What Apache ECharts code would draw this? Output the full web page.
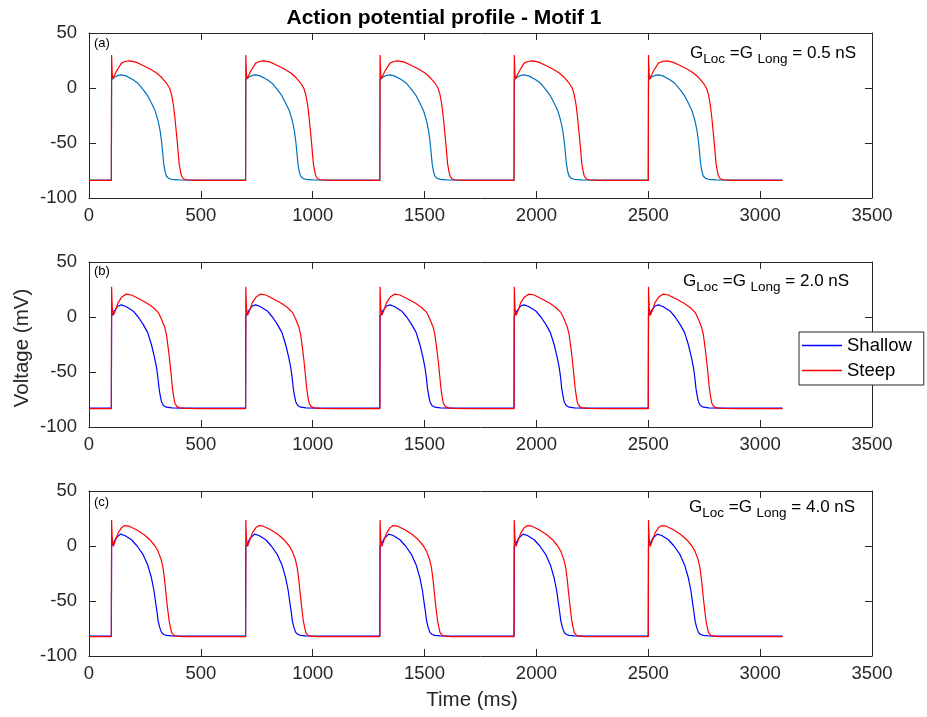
<!DOCTYPE html>
<html><head><meta charset="utf-8">
<script src="https://cdn.jsdelivr.net/npm/echarts@6/dist/echarts.min.js"></script>
<style>html,body{margin:0;padding:0;background:#fff}#c{width:927px;height:717px}</style>
</head><body><div id="c"></div>
<script>
// ---------------- data ----------------
const chartTitle = 'Action potential profile - Motif 1';
const xAxisName = 'Time (ms)';
const yAxisName = 'Voltage (mV)';
const panelLabels = ['(a)', '(b)', '(c)'];
const conductances = ['0.5', '2.0', '4.0'];
const seriesNames = ['Shallow', 'Steep'];
const xMin = 0, xMax = 3500, xStep = 500;
const yMin = -100, yMax = 50, yStep = 50;
const beatOnsets = [100, 700, 1300, 1900, 2500];   // stimulus times (ms)
const endTime = 3100;

// one action potential per trace: [ms after stimulus, mV]
const shallowA = [[0,-83.7],[1,7.5],[8,9],[15,10],[30,11.5],[45,12],[65,11],[97,7.5],[120,4],[142,-1.5],[162,-7],[179,-13.6],[196,-21],[209,-30],[218,-39],[224,-48],[229,-58],[234,-69],[240,-76],[246,-80],[256,-82.2],[269,-83],[300,-83.5],[360,-83.7]];
const steepA   = [[0,-84],[1,30],[4,12],[7,8.5],[12,10],[22,15],[45,22.6],[65,24.3],[82,24.7],[110,23.5],[142,20.5],[175,17],[202,13.6],[225,9.5],[246,4.5],[260,0],[269,-6],[277,-15],[284,-27],[294,-48],[303,-69],[309,-76],[314,-80],[322,-82.5],[336,-83.4],[380,-84]];
const shallowB = [[0,-82.9],[1,1],[8,1.8],[15,6],[30,10],[45,11],[65,9.5],[97,5.5],[120,0],[142,-6.7],[162,-14],[179,-25],[192,-36],[202,-46],[208,-55],[213,-64.7],[218,-71],[224,-77],[233,-80.5],[246,-82],[270,-82.6],[330,-82.9]];
const steepB   = [[0,-83.3],[1,27.5],[4,8],[9,1.5],[18,6],[30,13],[48,18.5],[67,20.8],[90,20],[127,16.2],[160,12.5],[187,8.6],[210,4],[224,-2],[238,-9],[246,-15.8],[254,-28],[261,-40],[267,-52],[273,-64.7],[279,-73],[284,-78.4],[293,-81.5],[306,-82.6],[330,-83.1],[400,-83.3]];
const shallowC = [[0,-81.9],[1,0],[8,2],[20,7],[40,10.8],[60,9.5],[90,5.7],[115,0],[142,-7.9],[162,-17],[179,-28.9],[190,-40],[199,-53],[204,-60],[209,-68],[216,-74],[224,-78.5],[234,-80.5],[246,-81.3],[270,-81.7],[320,-81.9]];
const steepC   = [[0,-82.3],[1,23.7],[4,6],[9,-0.3],[18,5],[30,11.7],[45,16.5],[60,18.6],[80,18],[112,14.7],[145,10.5],[172,5.7],[195,0],[209,-4.9],[222,-12],[231,-19.9],[238,-31],[246,-47],[252,-58],[258,-68],[264,-74],[269,-78.5],[278,-81],[291,-82],[320,-82.3]];

const shallowTemplates = [shallowA, shallowB, shallowC];
const steepTemplates = [steepA, steepB, steepC];

// ---------------- style / layout ----------------
const FONT = '"Liberation Sans", Arial, Helvetica, sans-serif';
const AX = '#262626';
const shallowColors = ['#0072BD', '#0000FF', '#0000FF'];
const steepColor = '#FF0000';
const gridTops = [33, 262, 491];
const gridH = 165;
const gLabelPos = [[690, 53], [683, 281], [689, 507]];
const pLabelY = [45, 273, 503.5];

function buildTrace(template) {
  const rest = template[0][1];
  const out = [[xMin, rest]];
  beatOnsets.forEach(t0 => template.forEach(p => out.push([t0 + p[0], p[1]])));
  out.push([endTime, rest]);
  return out;
}
const plain = v => String(v);

const grids = [], xAxes = [], yAxes = [], series = [], graphics = [];
gridTops.forEach((top, i) => {
  grids.push({left: 89, right: 55, top: top, height: gridH, containLabel: false});
});
const tickCommon = {show: true, inside: true, length: 7, lineStyle: {color: AX, width: 1}};
gridTops.forEach((top, i) => {
  xAxes.push({type: 'value', gridIndex: i, min: xMin, max: xMax, interval: xStep, position: 'bottom',
    axisLine: {show: true, onZero: false, lineStyle: {color: AX, width: 1}},
    axisTick: tickCommon, splitLine: {show: false},
    axisLabel: {show: true, color: AX, fontSize: 18.5, fontFamily: FONT, margin: 8, formatter: plain, showMinLabel: true, showMaxLabel: true}});
});
gridTops.forEach((top, i) => {
  xAxes.push({type: 'value', gridIndex: i, min: xMin, max: xMax, interval: xStep, position: 'top',
    axisLine: {show: true, onZero: false, lineStyle: {color: AX, width: 1}},
    axisTick: tickCommon, splitLine: {show: false}, axisLabel: {show: false}});
});
gridTops.forEach((top, i) => {
  yAxes.push({type: 'value', gridIndex: i, min: yMin, max: yMax, interval: yStep, position: 'left',
    axisLine: {show: true, onZero: false, lineStyle: {color: AX, width: 1}},
    axisTick: tickCommon, splitLine: {show: false},
    axisLabel: {show: true, color: AX, fontSize: 18.5, fontFamily: FONT, margin: 12, formatter: plain, showMinLabel: true, showMaxLabel: true}});
});
gridTops.forEach((top, i) => {
  yAxes.push({type: 'value', gridIndex: i, min: yMin, max: yMax, interval: yStep, position: 'right',
    axisLine: {show: true, onZero: false, lineStyle: {color: AX, width: 1}},
    axisTick: tickCommon, splitLine: {show: false}, axisLabel: {show: false}});
});

// panel (b) first so the legend takes its colours
[1, 0, 2].forEach(i => {
  series.push({type: 'line', name: seriesNames[0], xAxisIndex: i, yAxisIndex: i, symbol: 'none',
    animation: false, silent: true, lineStyle: {color: shallowColors[i], width: 1.2}, itemStyle: {color: shallowColors[i]},
    data: buildTrace(shallowTemplates[i])});
  series.push({type: 'line', name: seriesNames[1], xAxisIndex: i, yAxisIndex: i, symbol: 'none',
    animation: false, silent: true, lineStyle: {color: steepColor, width: 1.2}, itemStyle: {color: steepColor},
    data: buildTrace(steepTemplates[i])});
});

gridTops.forEach((top, i) => {
  graphics.push({type: 'text', left: 94, top: pLabelY[i] - 8, style: {text: panelLabels[i], fontSize: 13, fontFamily: FONT, fill: '#000'}});
  graphics.push({type: 'text', x: gLabelPos[i][0], y: gLabelPos[i][1], style: {
    text: '{m|G}{s|Loc}{m| =G }{s|Long}{m| = ' + conductances[i] + ' nS}',
    verticalAlign: 'middle', align: 'left', fill: '#000',
    rich: {m: {fontSize: 17, fontFamily: FONT, fill: '#000'},
           s: {fontSize: 13.5, fontFamily: FONT, fill: '#000', padding: [12, 0, 0, 0]}}}});
});
graphics.push({type: 'text', x: 444, y: 18, style: {text: chartTitle, fontSize: 21, fontWeight: 'bold', fontFamily: FONT, fill: '#000', align: 'center', verticalAlign: 'middle'}});
graphics.push({type: 'text', x: 472, y: 700, style: {text: xAxisName, fontSize: 20.5, fontFamily: FONT, fill: AX, align: 'center', verticalAlign: 'middle'}});
graphics.push({type: 'text', x: 22, y: 348, rotation: Math.PI / 2, style: {text: yAxisName, fontSize: 20.5, fontFamily: FONT, fill: AX, align: 'center', verticalAlign: 'middle'}});

const chart = echarts.init(document.getElementById('c'), null, {renderer: 'canvas'});
chart.setOption({
  animation: false,
  backgroundColor: '#fff',
  grid: grids, xAxis: xAxes, yAxis: yAxes, series: series, graphic: graphics,
  legend: {
    orient: 'vertical', left: 799, top: 332, z: 10,
    data: [
      {name: seriesNames[0], icon: 'rect', itemStyle: {color: shallowColors[1], borderWidth: 0}},
      {name: seriesNames[1], icon: 'rect', itemStyle: {color: steepColor, borderWidth: 0}}
    ],
    backgroundColor: '#fff', borderColor: AX, borderWidth: 1, borderRadius: 0,
    padding: [3, 12, 4, 3], itemGap: 4, itemWidth: 40, itemHeight: 1.3, selectedMode: false,
    textStyle: {fontSize: 18.5, fontFamily: FONT, color: '#000', lineHeight: 21}
  }
});
</script></body></html>
